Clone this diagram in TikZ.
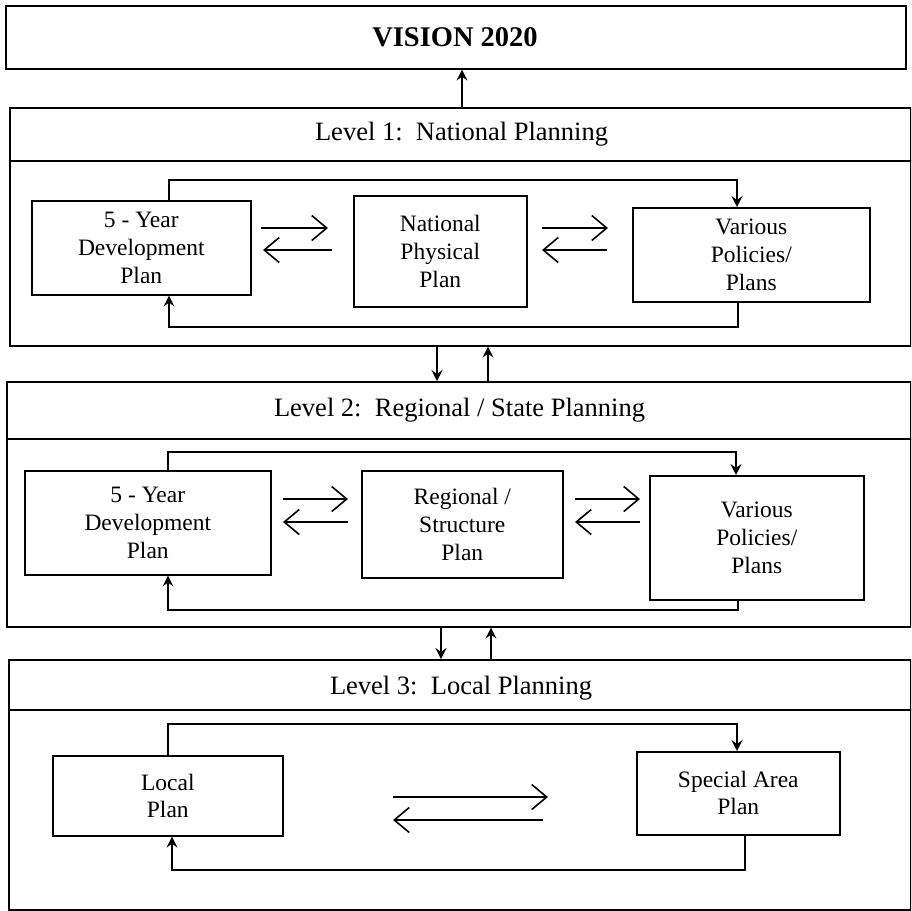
\documentclass[tikz,border=0pt]{standalone}
\usepackage{fontspec}
\setmainfont{Liberation Serif}
\usetikzlibrary{arrows.meta,calc}
\begin{document}
\begin{tikzpicture}[x=1pt,y=-1pt,
  lw/.style={line width=1.6pt},
  frame/.style={draw, lw, rectangle, inner sep=0pt, anchor=north west},
  plan/.style={frame, align=center, font=\fontsize{23.5}{28}\selectfont},
  leveltitle/.style={font=\fontsize{26.5}{30}\selectfont, inner sep=0pt},
  bigarr/.style={lw, -{Straight Barb[length=15pt,width=25pt,line width=1.6pt]}},
  smallarr/.style={lw, -{Stealth[length=11pt,width=11pt,inset=4pt]}},
  linkarr/.style={line width=1.2pt, -{Stealth[length=11pt,width=11pt,inset=4pt]}}
]
\useasboundingbox (0,0) rectangle (911,911);
\clip (0,0) rectangle (911,911);

% Vision
\node[frame, minimum width=900pt, minimum height=63pt] (vision) at (5,5) {};
\node[font=\bfseries\fontsize{28.5}{32}\selectfont, inner sep=0pt] (vt) at (455,37) {VISION 2020};

% Level frames
\node[frame, minimum width=901pt, minimum height=238pt] (L1) at (9,107) {};
\node[frame, minimum width=904pt, minimum height=245pt] (L2) at (6,381) {};
\node[frame, minimum width=902pt, minimum height=250pt] (L3) at (8,659) {};
\coordinate (h1) at (0,161);
\coordinate (h2) at (0,439);
\coordinate (h3) at (0,710);
\draw[lw] (L1.west |- h1) -- (L1.east |- h1);
\draw[lw] (L2.west |- h2) -- (L2.east |- h2);
\draw[lw] (L3.west |- h3) -- (L3.east |- h3);
\node[leveltitle] (t1) at (461.5,134) {Level 1:\ \ National Planning};
\node[leveltitle] (t2) at (459.5,410) {Level 2:\ \ Regional / State Planning};
\node[leveltitle] (t3) at (461,688) {Level 3:\ \ Local Planning};

% Level 1 boxes
\node[plan, minimum width=219pt, minimum height=94pt] (a1) at (31,200) {5 - Year\\Development\\Plan};
\node[plan, minimum width=173pt, minimum height=111pt] (b1) at (353,195) {National\\Physical\\Plan};
\node[plan, minimum width=237pt, minimum height=94pt] (c1) at (632,207) {Various\\Policies/\\Plans};

% Level 2 boxes
\node[plan, minimum width=246pt, minimum height=104pt] (a2) at (24,470) {5 - Year\\Development\\Plan};
\node[plan, minimum width=201pt, minimum height=107pt] (b2) at (361,470) {Regional /\\Structure\\Plan};
\node[plan, minimum width=214pt, minimum height=124pt] (c2) at (649,475) {Various\\Policies/\\Plans};

% Level 3 boxes
\node[plan, minimum width=230pt, minimum height=80pt, font=\fontsize{23.5}{26.7}\selectfont] (a3) at (52,755) {Local\\Plan};
\node[plan, minimum width=203pt, minimum height=83pt, font=\fontsize{23.5}{26.7}\selectfont] (c3) at (636,751) {Special Area\\Plan};

% Links between levels
\coordinate (v0) at (462,0);
\draw[linkarr] (L1.north -| v0) -- (vision.south -| v0);
\coordinate (d12) at (437,0);
\coordinate (u12) at (488,0);
\draw[linkarr] (L1.south -| d12) -- (L2.north -| d12);
\draw[linkarr] (L2.north -| u12) -- (L1.south -| u12);
\coordinate (d23) at (441,0);
\coordinate (u23) at (491,0);
\draw[linkarr] (L2.south -| d23) -- (L3.north -| d23);
\draw[linkarr] (L3.north -| u23) -- (L2.south -| u23);

% Level 1 feedback loops
\coordinate (f1a) at (169,180);
\coordinate (f1b) at (737,180);
\draw[smallarr] (a1.north -| f1a) -- (f1a) -- (f1b) -- (c1.north -| f1b);
\coordinate (g1a) at (169,327);
\coordinate (g1b) at (738,327);
\draw[smallarr] (c1.south -| g1b) -- (g1b) -- (g1a) -- (a1.south -| g1a);

% Level 2 feedback loops
\coordinate (f2a) at (168,452);
\coordinate (f2b) at (736,452);
\draw[smallarr] (a2.north -| f2a) -- (f2a) -- (f2b) -- (c2.north -| f2b);
\coordinate (g2a) at (168,610);
\coordinate (g2b) at (738,610);
\draw[smallarr] (c2.south -| g2b) -- (g2b) -- (g2a) -- (a2.south -| g2a);

% Level 3 feedback loops
\coordinate (f3a) at (168,724);
\coordinate (f3b) at (737,724);
\draw[smallarr] (a3.north -| f3a) -- (f3a) -- (f3b) -- (c3.north -| f3b);
\coordinate (g3a) at (172,870);
\coordinate (g3b) at (745,870);
\draw[smallarr] (c3.south -| g3b) -- (g3b) -- (g3a) -- (a3.south -| g3a);

% Two-way arrows, level 1
\coordinate (p1) at (261,228); \coordinate (p2) at (328,228);
\coordinate (p3) at (332,250); \coordinate (p4) at (263,250);
\draw[bigarr] (p1) -- (p2);
\draw[bigarr] (p3) -- (p4);
\coordinate (q1) at (542,228); \coordinate (q2) at (608,228);
\coordinate (q3) at (607,250); \coordinate (q4) at (542,250);
\draw[bigarr] (q1) -- (q2);
\draw[bigarr] (q3) -- (q4);

% Two-way arrows, level 2
\coordinate (r1) at (283,499); \coordinate (r2) at (348,499);
\coordinate (r3) at (348,522); \coordinate (r4) at (283,522);
\draw[bigarr] (r1) -- (r2);
\draw[bigarr] (r3) -- (r4);
\coordinate (s1) at (575,499); \coordinate (s2) at (640,499);
\coordinate (s3) at (640,522); \coordinate (s4) at (575,522);
\draw[bigarr] (s1) -- (s2);
\draw[bigarr] (s3) -- (s4);

% Two-way arrows, level 3
\coordinate (w1) at (393,797); \coordinate (w2) at (548,797);
\coordinate (w3) at (543,820); \coordinate (w4) at (393,820);
\draw[bigarr] (w1) -- (w2);
\draw[bigarr] (w3) -- (w4);
\end{tikzpicture}
\end{document}
